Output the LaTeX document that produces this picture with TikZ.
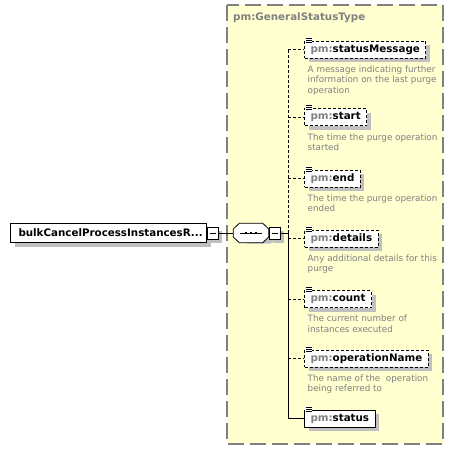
\documentclass[tikz,border=0pt]{standalone}
\usepackage{fontspec}
\setmainfont{DejaVu Sans}
\usetikzlibrary{shadows,calc}
\definecolor{paleyellow}{RGB}{255,255,208}
\definecolor{framegray}{RGB}{128,128,128}
\definecolor{shadowgray}{RGB}{192,192,192}
\definecolor{notegray}{RGB}{128,128,128}

\begin{document}
\begin{tikzpicture}[x=1pt,y=-1pt]
  \tikzstyle{boxshadow}=[general shadow={fill=shadowgray,shadow xshift=4pt,shadow yshift=-4pt}]
  \tikzstyle{elembox}=[rectangle,draw,fill=white,boxshadow,line width=1pt,dash pattern=on 3pt off 2pt,minimum height=17pt,inner xsep=6pt,inner ysep=0pt,anchor=west,font=\fontsize{10.3}{12}\selectfont\bfseries]
  \tikzstyle{reqbox}=[elembox,solid]
  \tikzstyle{note}=[anchor=north west,align=left,inner sep=0pt,text=notegray,font=\fontsize{8.8}{10.6}\selectfont]
  \tikzstyle{minusbox}=[rectangle,draw,line width=0.8pt,fill=white,boxshadow,minimum width=11pt,minimum height=12pt,inner sep=0pt,anchor=west,path picture={\draw[line width=0.8pt] ($(path picture bounding box.west)+(2.5pt,0)$) -- ($(path picture bounding box.east)+(-2.5pt,0)$);}]
  \tikzstyle{link}=[line width=1pt]
  \tikzstyle{optlink}=[link,dash pattern=on 3pt off 2pt]

  \useasboundingbox (0,0) rectangle (454,450);
  \fill[white] (0,0) rectangle (454,450);

  \draw[draw=framegray,fill=paleyellow,line width=1.2pt,dash pattern=on 16pt off 6pt] (227,5) rectangle (443,444);
  \node[anchor=west,inner sep=0pt,text=framegray,font=\fontsize{10.3}{12}\selectfont\bfseries] (typename) at (233,18) {pm:GeneralStatusType};

  \node[reqbox,minimum height=19pt,inner xsep=8pt,text width=180pt,align=left] (root) at (10,233) {bulkCancelProcessInstancesR...};
  \node[minusbox] (rootminus) at (root.east) {};
  \node[minimum width=35pt,minimum height=19pt,inner sep=0pt] (seq) at (251,233) {};
  \fill[shadowgray] ($(seq.center)+(-13.5,-5.5)$) ++(4,4) -- ++(6,-4) -- ++(23,0) -- ++(6,4) -- ++(0,8) -- ++(-6,4) -- ++(-23,0) -- ++(-6,-4) -- cycle;
  \filldraw[fill=white,line width=0.8pt] ($(seq.west)+(0,-4)$) -- ($(seq.north west)+(6,0)$) -- ($(seq.north east)+(-6,0)$) -- ($(seq.east)+(0,-4)$) -- ($(seq.east)+(0,4)$) -- ($(seq.south east)+(-6,0)$) -- ($(seq.south west)+(6,0)$) -- ($(seq.west)+(0,4)$) -- cycle;
  \node[minusbox] (seqminus) at (seq.east) {};
  \draw[line width=0.8pt] ($(seq.center)+(-11,0)$) -- ($(seq.center)+(11,0)$);
  \foreach \dx in {-5,0,5}
    \fill ($(seq.center)+(\dx,0)$) +(-1.4,-1.4) rectangle +(1.4,1.4);
  \coordinate (spine) at (288,233);
  \coordinate (top) at (288,49.5);
  \coordinate (bottom) at (288,418.5);

  \draw[link] (rootminus) -- (seq);
  \draw[link] (seqminus) -- (spine);
  \draw[optlink] (spine) -- (top);
  \draw[link] (spine) -- (bottom);

  \node[elembox] (msg) at (304,49.5) {\textcolor{notegray}{pm:}statusMessage};
  \node[elembox] (start) at (304,117) {\textcolor{notegray}{pm:}start};
  \node[elembox] (end) at (304,178.5) {\textcolor{notegray}{pm:}end};
  \node[elembox] (details) at (304,238.5) {\textcolor{notegray}{pm:}details};
  \node[elembox] (count) at (304,299) {\textcolor{notegray}{pm:}count};
  \node[elembox] (opname) at (304,358.5) {\textcolor{notegray}{pm:}operationName};
  \node[reqbox] (status) at (304,418.5) {\textcolor{notegray}{pm:}status};

  \node[note] (msgnote) at (307.5,65.5) {A message indicating further\\information on the last purge\\operation};
  \node[note] (startnote) at (307.5,133.5) {The time the purge operation\\started};
  \node[note] (endnote) at (307.5,194.5) {The time the purge operation\\ended};
  \node[note] (detailsnote) at (307.5,254.5) {Any additional details for this\\purge};
  \node[note] (countnote) at (307.5,315) {The current number of\\instances executed};
  \node[note] (opnamenote) at (307.5,374.5) {The name of the\ \ operation\\being referred to};

  \foreach \n in {msg,start,end,details,count,opname}
    \draw[optlink] (\n.west -| spine) -- (\n.west);
  \draw[link] (status.west -| spine) -- (status.west);

  \foreach \n in {msg,start,end,details,count,opname,status} {
    \fill[white] ($(\n.north west)+(0.5,-3.5)$) rectangle ($(\n.north west)+(8,3)$);
    \foreach \dy in {-2.5,-0.5,1.5}
      \draw[line width=0.8pt] ($(\n.north west)+(1.5,\dy)$) -- ++(6,0);
  }
\end{tikzpicture}
\end{document}
